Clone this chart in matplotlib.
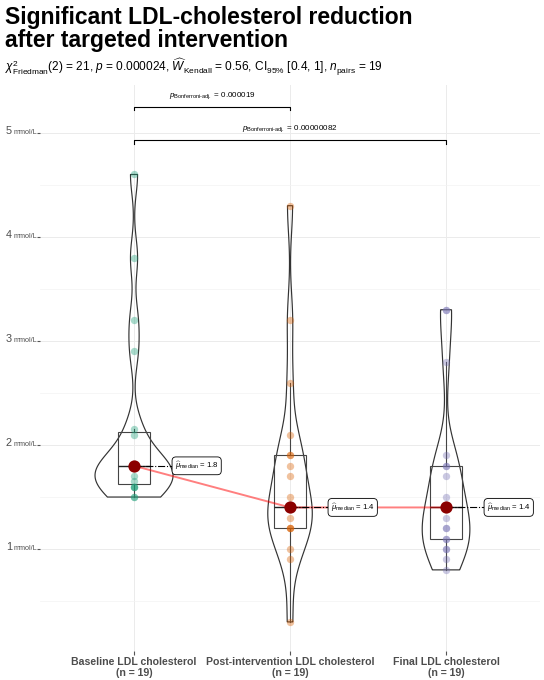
import numpy as np
import matplotlib
matplotlib.use("Agg")
import matplotlib.pyplot as plt

plt.rcParams['font.family'] = ['Liberation Sans', 'DejaVu Sans']
plt.rcParams['mathtext.fontset'] = 'custom'
plt.rcParams['mathtext.rm'] = 'Liberation Sans'
plt.rcParams['mathtext.it'] = 'Liberation Sans:italic'
plt.rcParams['mathtext.bf'] = 'Liberation Sans:bold'

# data (mmol/L, 19 subjects each)
groups = ["Baseline LDL cholesterol", "Post-intervention LDL cholesterol", "Final LDL cholesterol"]
baseline = [1.5, 1.5, 1.6, 1.6, 1.6, 1.65, 1.7, 1.8, 1.8, 1.8, 1.8, 1.8, 1.8, 2.1, 2.15, 2.9, 3.2, 3.8, 4.6]
post = [0.3, 0.9, 1.0, 1.2, 1.2, 1.2, 1.3, 1.4, 1.4, 1.4, 1.5, 1.7, 1.8, 1.9, 1.9, 2.1, 2.6, 3.2, 4.3]
final = [0.8, 0.9, 1.0, 1.0, 1.1, 1.1, 1.2, 1.2, 1.3, 1.4, 1.4, 1.5, 1.7, 1.8, 1.8, 1.9, 2.8, 3.3, 3.3]
colors = ["#1B9E77", "#D95F02", "#7570B3"]
pairs = [(1, 2), (1, 3)]
pair_labels = ["0.000019", "0.00000082"]
pair_y = [5.25, 4.93]
yticks = [1, 2, 3, 4, 5]

series = [np.array(baseline), np.array(post), np.array(final)]
pos = np.arange(1, 4)


def kde(v, grid):
    n = len(v)
    iqr = np.percentile(v, 75) - np.percentile(v, 25)
    bw = 0.9 * min(np.std(v, ddof=1), iqr / 1.34) * n ** -0.2
    z = (grid[:, None] - v[None, :]) / bw
    return np.exp(-0.5 * z ** 2).sum(axis=1) / (n * bw * np.sqrt(2 * np.pi))


fig = plt.figure(figsize=(5.44, 6.8), dpi=100)
ax = fig.add_axes([0.0743, 0.0426, 0.9177, 0.8324])

# violins (scale = area, max width 0.5)
grids = [np.linspace(s.min(), s.max(), 512) for s in series]
dens = [kde(s, g) for s, g in zip(series, grids)]
dmax = max(d.max() for d in dens)
for p, g, d in zip(pos, grids, dens):
    half = 0.25 * d / dmax
    xs = np.concatenate([p + half, (p - half)[::-1]])
    ys = np.concatenate([g, g[::-1]])
    ax.fill(xs, ys, facecolor='none', edgecolor='#333333', lw=0.85, zorder=2)

ax.boxplot(series, positions=pos, widths=0.2, showfliers=False, showcaps=False,
           patch_artist=True, manage_ticks=False,
           boxprops=dict(facecolor='none', edgecolor='#444444', lw=0.8),
           whiskerprops=dict(color='#444444', lw=0.8),
           medianprops=dict(color='#222222', lw=1.0), zorder=3)

for p, s, c in zip(pos, series, colors):
    ax.scatter(np.full(len(s), p), s, s=28, color=c, alpha=0.38, lw=0, zorder=4)

meds = [np.median(s) for s in series]
ax.plot(pos, meds, color='red', alpha=0.5, lw=1.4, zorder=5)
ax.scatter(pos, meds, s=78, color='darkred', zorder=6, lw=0)

off = 37.7 / 156
for p, m in zip(pos, meds):
    ax.plot([p, p + off], [m, m], color='black', ls='-.', lw=0.8, zorder=5)
    ax.annotate(r"$\widehat{\mu}_{\mathrm{median}}$ = %.1f" % m, xy=(p + off, m),
                xytext=(2.2, 0), textcoords='offset points', ha='left', va='center',
                fontsize=5.6, zorder=7,
                bbox=dict(boxstyle='round,pad=0.35,rounding_size=0.5', fc='white', ec='black', lw=0.6))

# pairwise brackets
tip = 0.035
for (a, b), lab, yb in zip(pairs, pair_labels, pair_y):
    ax.plot([a, a, b, b], [yb - tip, yb, yb, yb - tip], color='black', lw=0.8, zorder=5)
    ax.text((a + b) / 2, yb + 0.11, r"$p_{\mathrm{Bonferroni\text{-}adj.}}$ = " + lab,
            ha='center', va='center', fontsize=5.8)

ax.set_xlim(0.4, 3.6)
ax.set_ylim(0.02, 5.46)
for sp in ax.spines.values():
    sp.set_visible(False)
ax.set_yticks(yticks)
ax.set_yticklabels([])
ax.set_yticks(np.arange(0.5, 5, 1.0), minor=True)
ax.tick_params(axis='y', which='major', length=2, color='#555555')
ax.tick_params(axis='y', which='minor', length=0)
ax.set_xticks(pos)
ax.set_xticklabels(["%s\n(n = %d)" % (g, len(s)) for g, s in zip(groups, series)],
                   fontsize=7.6, fontweight='bold', color='#4D4D4D', linespacing=1.05)
ax.tick_params(axis='x', length=3, color='#555555', pad=1.5)
ax.grid(True, which='major', color='#EBEBEB', lw=0.7)
ax.grid(True, which='minor', axis='y', color='#F3F3F3', lw=0.5)
ax.set_axisbelow(True)

ytr = ax.get_yaxis_transform()
for t in yticks:
    ax.annotate("mmol/L", xy=(0, t), xycoords=ytr, xytext=(-2.6, -1), textcoords='offset points',
                ha='right', va='baseline', fontsize=5.2, color='#4D4D4D')
    ax.annotate(str(t), xy=(0, t), xycoords=ytr, xytext=(-20.5, -1), textcoords='offset points',
                ha='right', va='baseline', fontsize=7.8, color='#4D4D4D')

fig.text(5 / 544, 1 - 23.7 / 680, "Significant LDL-cholesterol reduction",
         fontsize=16.5, fontweight='bold', va='baseline', ha='left')
fig.text(5 / 544, 1 - 47 / 680, "after targeted intervention",
         fontsize=16.5, fontweight='bold', va='baseline', ha='left')
fig.text(5 / 544, 1 - 71.4 / 680,
         r"$\chi^2_{\mathrm{Friedman}}$(2) = 21, $p$ = 0.000024, $\widehat{W}_{\mathrm{Kendall}}$ = 0.56, "
         r"CI$_{95\%}$ [0.4, 1], $n_{\mathrm{pairs}}$ = 19",
         fontsize=8.6, va='baseline', ha='left')

fig.savefig("out.png", dpi=100)
